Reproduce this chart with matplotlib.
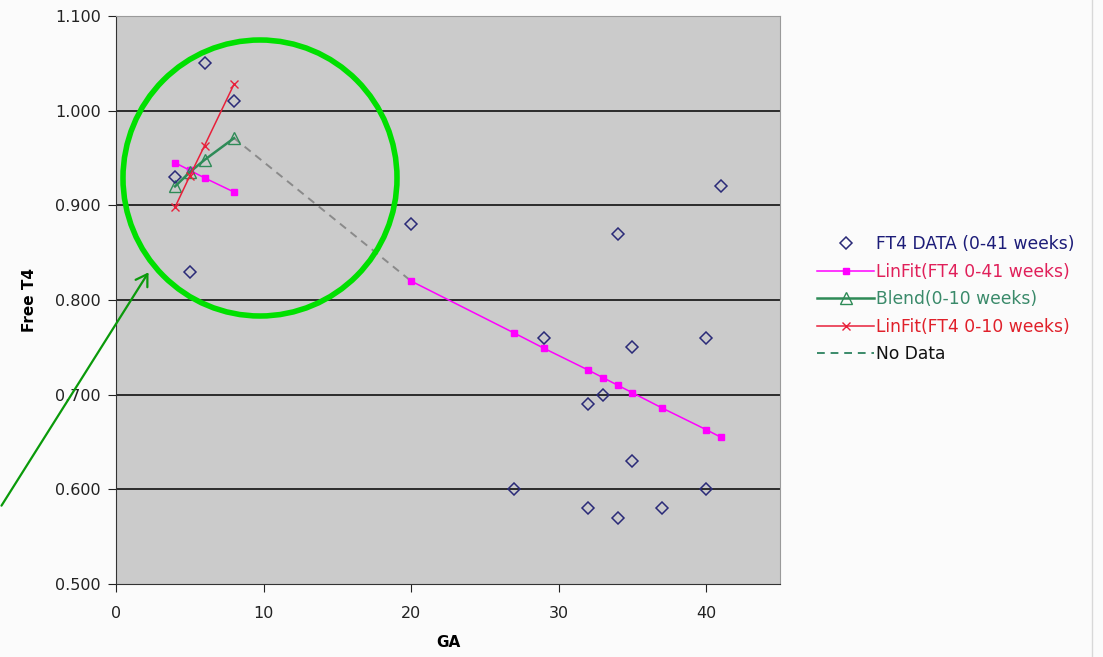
import matplotlib
matplotlib.use("Agg")
import matplotlib.pyplot as plt
from matplotlib.patches import Ellipse, FancyArrowPatch
import numpy as np

# FT4 measurements by gestational age (weeks)
ga_data = [4, 5, 6, 8, 20, 27, 29, 32, 32, 33, 34, 34, 35, 35, 37, 40, 40, 41]
ft4_data = [0.930, 0.830, 1.050, 1.010, 0.880, 0.600, 0.760, 0.690, 0.580, 0.700,
            0.870, 0.570, 0.750, 0.630, 0.580, 0.760, 0.600, 0.920]

# linear fit over all weeks (no line drawn across the 8-20 gap)
fit_all_ga = [4, 5, 6, 8, None, 20, 27, 29, 32, 33, 34, 35, 37, 40, 41]
fit_all_ft4 = [0.945, 0.937, 0.929, 0.914, None, 0.820, 0.765, 0.749, 0.726, 0.718,
               0.710, 0.702, 0.686, 0.663, 0.655]

# blended early curve
blend_ga = [4, 5, 6, 8]
blend_ft4 = [0.920, 0.935, 0.948, 0.971]

# linear fit over the first 10 weeks
fit_early_ga = [4, 5, 6, 8]
fit_early_ft4 = [0.898, 0.931, 0.963, 1.028]

# stretch with no measurements
gap_ga = [8, 20]
gap_ft4 = [0.971, 0.820]

def clean(xs, ys):
    x = np.array([np.nan if v is None else v for v in xs], dtype=float)
    y = np.array([np.nan if v is None else v for v in ys], dtype=float)
    return x, y

fig = plt.figure(figsize=(11.03, 6.57), dpi=100)
fig.patch.set_facecolor("#fbfbfb")
ax = fig.add_axes([116 / 1103, 1 - 584 / 657, 664 / 1103, 568 / 657])
ax.set_facecolor("#cbcbcb")

ax.set_xlim(0, 45)
ax.set_ylim(0.5, 1.1)
ax.set_xticks([0, 10, 20, 30, 40])
ax.set_yticks(np.arange(0.5, 1.101, 0.1))
ax.set_yticklabels([f"{v:.3f}" for v in np.arange(0.5, 1.101, 0.1)])
ax.tick_params(labelsize=11.5, colors="#222222", length=6, direction="out")
ax.tick_params(axis="y", pad=5)
ax.tick_params(axis="x", pad=10)
for y in np.arange(0.6, 1.05, 0.1):
    ax.axhline(y, color="black", lw=1.1, zorder=1)

for side in ["top", "right"]:
    ax.spines[side].set_color("#9a9a9a")
    ax.spines[side].set_linewidth(0.8)
ax.spines["left"].set_color("#333333")
ax.spines["bottom"].set_color("#333333")

ax.set_xlabel("GA", fontsize=11, fontweight="bold", labelpad=10)
ax.set_ylabel("Free T4", fontsize=11, fontweight="bold", labelpad=13)

h_data, = ax.plot(ga_data, ft4_data, ls="none", marker="D", ms=6.5, mfc="none",
                  mec="#2a2a78", mew=1.1, zorder=5, label="FT4 DATA (0-41 weeks)")
x, y = clean(fit_all_ga, fit_all_ft4)
h_fit, = ax.plot(x, y, color="#ff00ff", lw=1.1, marker="s", ms=4.5, mec="#ff00ff",
                 zorder=4, label="LinFit(FT4 0-41 weeks)")
h_blend, = ax.plot(blend_ga, blend_ft4, color="#2e8b57", lw=1.8, marker="^", ms=8,
                   mfc="none", mec="#2e8b57", zorder=4, label="Blend(0-10 weeks)")
h_early, = ax.plot(fit_early_ga, fit_early_ft4, color="#e8203a", lw=1.1, marker="x",
                   ms=6, zorder=4, label="LinFit(FT4 0-10 weeks)")
h_gap, = ax.plot(gap_ga, gap_ft4, color="#8a8a8a", lw=1.4, ls=(0, (4, 3)), zorder=3,
                 label="No Data")

leg = fig.legend(handles=[h_data, h_fit, h_blend, h_early, h_gap],
                 loc="upper left", bbox_to_anchor=(802 / 1103, 1 - 220 / 657),
                 frameon=False, fontsize=12.3, handlelength=3.3, handletextpad=0.15,
                 labelspacing=0.55)
h_gap_leg = leg.get_lines()[-1]
h_gap_leg.set_color("#3a8a6a")
for txt, c in zip(leg.get_texts(), ["#1c1c78", "#e0205a", "#3a8a6a", "#e0202a", "#111111"]):
    txt.set_color(c)

# highlight circle round the early-pregnancy points
fig.add_artist(Ellipse((260 / 1103, 1 - 178 / 657), width=274 / 1103, height=276 / 657,
                       transform=fig.transFigure, fill=False, ec="#00e000", lw=4))
fig.add_artist(FancyArrowPatch((0 / 1103, 1 - 508 / 657), (150 / 1103, 1 - 270 / 657),
                               transform=fig.transFigure, arrowstyle="->,head_length=8,head_width=5",
                               color="#0a9a0a", lw=1.6))
fig.add_artist(plt.Line2D([1092 / 1103, 1092 / 1103], [0, 1], transform=fig.transFigure,
                          color="#d8d8d8", lw=1))

fig.savefig("out.png", dpi=100, facecolor=fig.get_facecolor())
